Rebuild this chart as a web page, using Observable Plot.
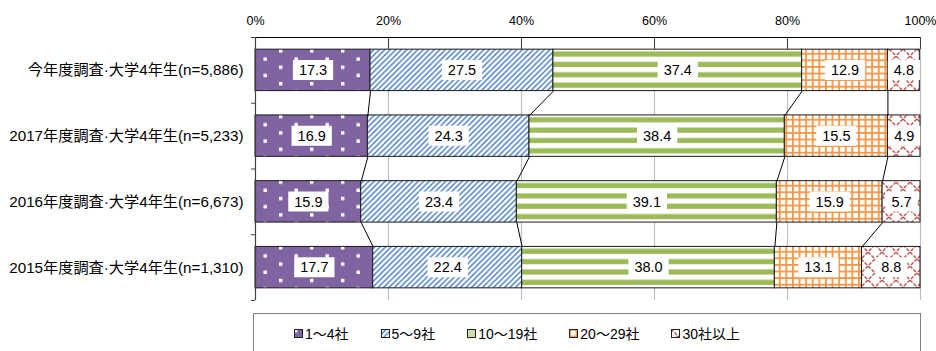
<!DOCTYPE html>
<html><head><meta charset="utf-8">
<script src="https://cdn.jsdelivr.net/npm/d3@7"></script>
<script src="https://cdn.jsdelivr.net/npm/@observablehq/plot@0.6"></script>
<style>
body{margin:0;background:#fff;font-family:"Liberation Sans","Noto Sans CJK JP",sans-serif;}
#legend{margin-top:3px;margin-left:253px;width:668px;height:40px;border:1px solid #7f7f7f;box-sizing:border-box;display:flex;align-items:center;padding-left:40px;gap:32px;font-size:14px;color:#000;}
#legend .item{display:flex;align-items:center;gap:2px;white-space:nowrap;}
</style></head><body>
<div id="chart"></div>
<div id="legend"></div>
<script>
const categories = [
  "今年度調査·大学4年生(n=5,886)",
  "2017年度調査·大学4年生(n=5,233)",
  "2016年度調査·大学4年生(n=6,673)",
  "2015年度調査·大学4年生(n=1,310)"
];
const seriesNames = ["1～4社", "5～9社", "10～19社", "20～29社", "30社以上"];
const s1to4 = [17.3, 16.9, 15.9, 17.7];
const s5to9 = [27.5, 24.3, 23.4, 22.4];
const s10to19 = [37.4, 38.4, 39.1, 38.0];
const s20to29 = [12.9, 15.5, 15.9, 13.1];
const s30plus = [4.8, 4.9, 5.7, 8.8];
const xTicks = [0, 20, 40, 60, 80, 100];

const seriesValues = [s1to4, s5to9, s10to19, s20to29, s30plus];
const pad = 0.185;

const table = [];
categories.forEach((c, i) => {
  let cum = 0;
  seriesValues.forEach((vals, j) => {
    const v = vals[i];
    table.push({i, j, cat: c, v, x1: cum, x2: cum + v});
    cum += v;
  });
});
const links = [];
for (let i = 0; i < categories.length - 1; i++) {
  for (let j = 0; j < seriesValues.length - 1; j++) {
    const a = table.find(d => d.i === i && d.j === j);
    const b = table.find(d => d.i === i + 1 && d.j === j);
    links.push({x1: a.x2, x2: b.x2, y1: i + 1 - pad, y2: i + 1 + pad});
  }
}

const font = '"Liberation Sans","Noto Sans CJK JP",sans-serif';
const chart = Plot.plot({
  width: 936, height: 310,
  marginLeft: 255, marginRight: 16, marginTop: 37, marginBottom: 10,
  style: {fontFamily: font, fontSize: "14px", color: "#000", background: "#fff", overflow: "visible"},
  x: {domain: [0, 100]},
  y: {domain: [0, 4], reverse: true},
  color: {type: "identity"},
  marks: [
    Plot.ruleX(xTicks.slice(1), {stroke: "#bfbfbf", strokeWidth: 1.2}),
    Plot.rect(table, {x1: "x1", x2: "x2", y1: d => d.i + pad, y2: d => d.i + 1 - pad,
      fill: d => `url(#pat${d.j})`, stroke: "#1a1a1a", strokeWidth: 1}),
    Plot.link(links, {x1: "x1", x2: "x2", y1: "y1", y2: "y2", stroke: "#000", strokeWidth: 1}),
    Plot.text(table, {x: d => (d.x1 + d.x2) / 2, y: d => d.i + 0.5, text: d => d.v.toFixed(1),
      fontSize: 14.5, fill: "#000"}),
    Plot.ruleX(xTicks, {y1: 0, y2: pad, stroke: "#404040"}),
    Plot.ruleY([0], {stroke: "#000", strokeWidth: 1.2}),
    Plot.ruleX([0], {stroke: "#404040", strokeWidth: 1.2}),
    Plot.axisX({anchor: "top", ticks: xTicks, tickFormat: d => d + "%", tickSize: 0, tickPadding: 13, fontSize: 12.5, label: null}),
    Plot.axisY({ticks: [0.5, 1.5, 2.5, 3.5], tickFormat: d => categories[Math.floor(d)], tickSize: 0, tickPadding: 12, fontSize: 15.2, label: null}),
    Plot.axisY({ticks: [0, 1, 2, 3, 4], tickFormat: () => "", tickSize: 4, stroke: "#404040", label: null})
  ]
});

const defs = `<defs>
<pattern id="pat0" patternUnits="userSpaceOnUse" width="31" height="16.4">
  <rect width="31" height="16.4" fill="#8064A2"/>
  <rect x="0" y="0" width="3.4" height="3.4" fill="#fff"/>
  <rect x="15.5" y="8.2" width="3.4" height="3.4" fill="#fff"/>
</pattern>
<pattern id="pat1" patternUnits="userSpaceOnUse" width="5.5" height="5.5">
  <rect width="5.5" height="5.5" fill="#fff"/>
  <path d="M-1,6.5 L6.5,-1 M-1,1 L1,-1 M4.5,6.5 L6.5,4.5" stroke="#3E78C2" stroke-width="1.4"/>
</pattern>
<pattern id="pat2" patternUnits="objectBoundingBox" patternContentUnits="objectBoundingBox" width="1" height="0.25">
  <rect width="1" height="0.25" fill="#fff"/>
  <rect y="0.055" width="1" height="0.125" fill="#9BBB59"/>
</pattern>
<pattern id="pat3" patternUnits="userSpaceOnUse" width="6.6" height="6.6">
  <rect width="6.6" height="6.6" fill="#fff"/>
  <rect x="0" y="0" width="1.8" height="6.6" fill="#F79646"/>
  <rect x="0" y="0" width="6.6" height="1.8" fill="#F79646"/>
</pattern>
<pattern id="pat4" patternUnits="userSpaceOnUse" width="14" height="14">
  <rect width="14" height="14" fill="#fff"/>
  <path d="M0,0 L14,14 M14,0 L0,14" stroke="#C0504D" stroke-width="1.4" stroke-dasharray="3.5 1.5"/>
</pattern>
</defs>`;
chart.insertAdjacentHTML("afterbegin", defs);
document.getElementById("chart").append(chart);

// white boxes behind the value labels
const svgns = "http://www.w3.org/2000/svg";
chart.querySelectorAll('g[aria-label="text"] text').forEach(t => {
  const b = t.getBBox();
  const r = document.createElementNS(svgns, "rect");
  const w = b.width + 12, h = 20;
  r.setAttribute("x", b.x + b.width / 2 - w / 2);
  r.setAttribute("y", b.y + b.height / 2 - h / 2);
  r.setAttribute("width", w);
  r.setAttribute("height", h);
  r.setAttribute("fill", "#fff");
  if (t.getAttribute("transform")) r.setAttribute("transform", t.getAttribute("transform"));
  t.parentNode.insertBefore(r, t);
});

// legend
const legend = document.getElementById("legend");
seriesNames.forEach((name, j) => {
  const item = document.createElement("div");
  item.className = "item";
  item.innerHTML = `<svg width="9" height="9" style="display:block"><rect x="0.5" y="0.5" width="8" height="8" fill="url(#pat${j})" stroke="#222"/></svg><span>${name}</span>`;
  legend.append(item);
});
</script>
</body></html>
